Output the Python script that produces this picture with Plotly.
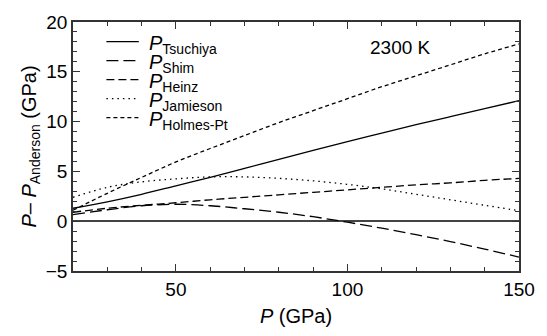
import plotly.graph_objects as go

pressure = [20, 30, 40, 50, 60, 70, 80, 90, 100, 110, 120, 130, 140, 150]
p_tsuchiya = [1.3, 1.95, 2.7, 3.55, 4.4, 5.3, 6.2, 7.1, 8.0, 8.85, 9.7, 10.5, 11.3, 12.1]
p_shim = [0.65, 1.15, 1.55, 1.7, 1.55, 1.25, 0.9, 0.45, -0.1, -0.7, -1.35, -2.05, -2.8, -3.6]
p_heinz = [0.9, 1.3, 1.6, 1.85, 2.15, 2.4, 2.65, 2.9, 3.15, 3.4, 3.65, 3.85, 4.1, 4.3]
p_jamieson = [2.4, 3.4, 3.95, 4.25, 4.45, 4.45, 4.3, 4.05, 3.7, 3.25, 2.7, 2.15, 1.6, 1.05]
p_holmes = [1.1, 2.8, 4.4, 5.95, 7.3, 8.6, 9.9, 11.1, 12.3, 13.5, 14.6, 15.7, 16.8, 17.8]

names = ["Tsuchiya", "Shim", "Heinz", "Jamieson", "Holmes-Pt"]
values = [p_tsuchiya, p_shim, p_heinz, p_jamieson, p_holmes]
dashes = ["solid", "12px,5px", "8px,4px", "1.5px,4px", "4px,3px"]

FONT = "Liberation Sans, Arial, sans-serif"

# plot area in pixels (for placing the hand-made legend)
L, R, T, B = 73, 527, 20, 275
W, H = R - L, B - T

def px_x(p):
    return (p - L) / W

def px_y(p):
    return (B - p) / H

fig = go.Figure()
for name, vals, dash in zip(names, values, dashes):
    fig.add_trace(go.Scatter(
        x=pressure, y=vals, mode="lines", line_shape="spline",
        name=name, showlegend=False,
        line=dict(color="black", width=1.3, dash=dash),
    ))

# legend (manual, tight row spacing as in the reference)
row0, row_gap = 40, 19.5
for i, (name, dash) in enumerate(zip(names, dashes)):
    yy = row0 + i * row_gap
    fig.add_shape(type="line", xref="paper", yref="paper",
                  x0=px_x(107), x1=px_x(140), y0=px_y(yy), y1=px_y(yy),
                  line=dict(color="black", width=1.3, dash=dash))
    fig.add_annotation(xref="paper", yref="paper", x=px_x(148), y=px_y(yy + 3),
                       xanchor="left", yanchor="middle", showarrow=False,
                       text=f"<i>P</i><sub>{name}</sub>",
                       font=dict(family=FONT, size=20, color="black"))

fig.add_annotation(x=115.5, y=17.4, xref="x", yref="y", text="2300 K",
                   showarrow=False, font=dict(family=FONT, size=19, color="black"))

axis_common = dict(
    showgrid=False, showline=True, linecolor="#333", linewidth=1.5, mirror="ticks",
    ticks="inside", tickcolor="#333", tickwidth=1.2, ticklen=7,
    tickfont=dict(family=FONT, size=19, color="black"),
)

fig.update_xaxes(range=[20, 150], tickvals=[50, 100, 150],
                 minor=dict(dtick=10, tick0=0, ticks="inside", ticklen=4, tickcolor="#333", tickwidth=1.2),
                 title=dict(text="<i>P</i> (GPa)", font=dict(family=FONT, size=20, color="black"), standoff=10),
                 zeroline=False, **axis_common)
fig.update_yaxes(range=[-5, 20], dtick=5,
                 minor=dict(dtick=1, ticks="inside", ticklen=4, tickcolor="#333", tickwidth=1.2),
                 title=dict(text="<i>P</i>– <i>P</i><sub>Anderson</sub> (GPa)",
                            font=dict(family=FONT, size=20, color="black"), standoff=4),
                 zeroline=True, zerolinecolor="#444", zerolinewidth=2, **axis_common)

fig.update_layout(
    width=547, height=336,
    margin=dict(l=L, r=547 - R, t=T, b=336 - B),
    paper_bgcolor="white", plot_bgcolor="white",
    showlegend=False,
    font=dict(family=FONT),
)

fig.write_html("out.html")
